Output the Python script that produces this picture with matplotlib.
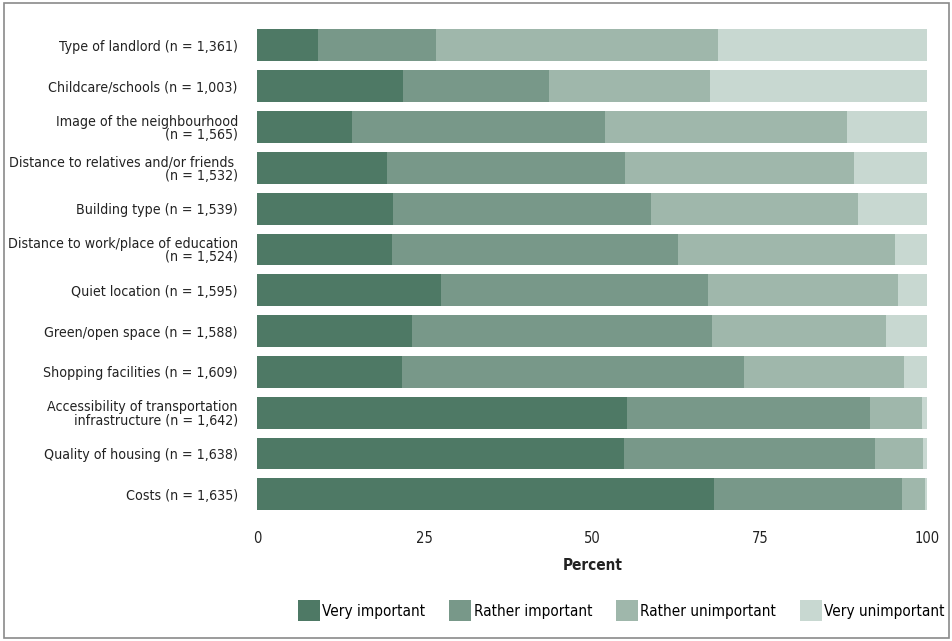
import numpy as np
import matplotlib
matplotlib.use("Agg")
import matplotlib.pyplot as plt
from matplotlib.patches import Rectangle

plt.rcParams['font.family'] = ['DejaVu Sans']
plt.rcParams['font.stretch'] = 'condensed'

# categories, top to bottom
labels = [
    "Type of landlord (n = 1,361)",
    "Childcare/schools (n = 1,003)",
    "Image of the neighbourhood\n(n = 1,565)",
    "Distance to relatives and/or friends \n(n = 1,532)",
    "Building type (n = 1,539)",
    "Distance to work/place of education\n(n = 1,524)",
    "Quiet location (n = 1,595)",
    "Green/open space (n = 1,588)",
    "Shopping facilities (n = 1,609)",
    "Accessibility of transportation\ninfrastructure (n = 1,642)",
    "Quality of housing (n = 1,638)",
    "Costs (n = 1,635)",
]

very_important = [9.1, 21.8, 14.1, 19.4, 20.3, 20.1, 27.4, 23.1, 21.6, 55.2, 54.8, 68.2]
rather_important = [17.6, 21.7, 37.8, 35.5, 38.5, 42.7, 39.8, 44.7, 51.1, 36.3, 37.4, 28.0]
rather_unimportant = [42.0, 24.0, 36.1, 34.1, 30.9, 32.4, 28.5, 26.1, 23.9, 7.7, 7.1, 3.5]
very_unimportant = [31.3, 32.5, 12.0, 11.0, 10.3, 4.8, 4.3, 6.1, 3.4, 0.8, 0.7, 0.3]

series_names = ["Very important", "Rather important", "Rather unimportant", "Very unimportant"]
colors = ["#4e7965", "#789889", "#9fb7ab", "#c8d8d1"]

fig = plt.figure(figsize=(9.53, 6.41), dpi=100)
ax = fig.add_axes([0.27, 0.197, 0.703, 0.764])

y = np.arange(len(labels))
left = np.zeros(len(labels))
for name, vals, c in zip(series_names,
                         [very_important, rather_important, rather_unimportant, very_unimportant],
                         colors):
    vals = np.array(vals)
    ax.barh(y, vals, left=left, height=0.78, color=c, label=name)
    left += vals

ax.set_ylim(11.5, -0.5)
ax.set_xlim(0, 100)
ax.set_yticks(y)
ax.set_yticklabels(labels, fontsize=10.2, linespacing=0.95, color='#222222')
ax.set_xticks([0, 25, 50, 75, 100])
ax.tick_params(axis='x', labelsize=10.5, length=0, pad=12, labelcolor='#222222')
ax.tick_params(axis='y', length=0, pad=14)
ax.set_xlabel("Percent", fontsize=11, fontweight='bold', labelpad=8, color='#222222')
for s in ax.spines.values():
    s.set_visible(False)

fig.legend(loc='center', bbox_to_anchor=(0.652, 0.047), ncol=4, frameon=False,
           fontsize=11, handlelength=1.45, handleheight=1.75, handletextpad=0.15,
           columnspacing=1.55)

# grey frame around the figure
fig.patches.append(Rectangle((0.004, 0.005), 0.992, 0.99, transform=fig.transFigure,
                             fill=False, edgecolor='#8a8a8a', linewidth=1.2))

fig.savefig("out.png", dpi=100)
